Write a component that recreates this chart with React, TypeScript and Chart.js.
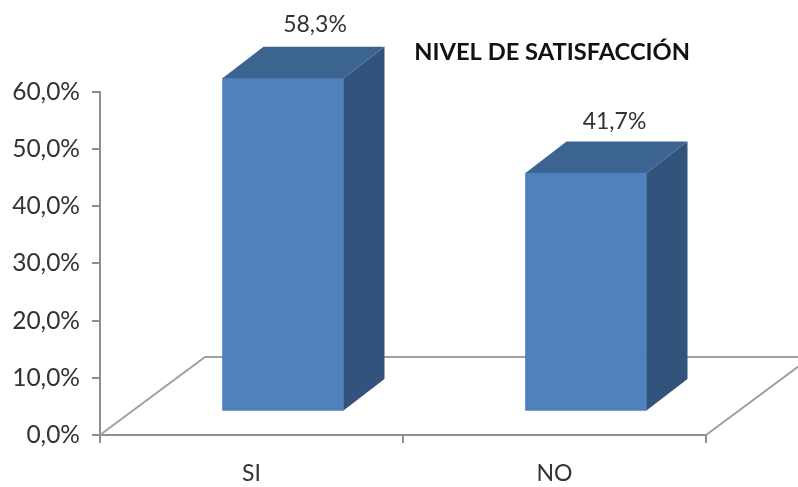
import { useEffect, useRef } from "react";
import { Chart, registerables } from "chart.js";

Chart.register(...registerables);

const categories = ["SI", "NO"];
const values = [58.3, 41.7];
const titleText = "NIVEL DE SATISFACCIÓN";
const yMax = 60;
const yStep = 10;

const FONT = "Lato, sans-serif";
const TEXT = "#333333";
const FRONT = "#4f81bd";
const TOP = "#3b6491";
const SIDE = "#32547c";

const BAR_SHIFT_X = 31.5;
const BAR_SHIFT_Y = -23.5;
const BAR_DEPTH_X = 41;
const BAR_DEPTH_Y = -31.5;
const FLOOR_DEPTH_X = 105;
const FLOOR_DEPTH_Y = -78;
const LABEL_OFFSETS = [[32, -54], [28.5, -51]];

const pct = (v: number) => v.toFixed(1).replace(".", ",") + "%";

function poly(ctx: CanvasRenderingContext2D, pts: number[][], fill: string) {
  ctx.fillStyle = fill;
  ctx.beginPath();
  pts.forEach(([x, y], i) => (i ? ctx.lineTo(x, y) : ctx.moveTo(x, y)));
  ctx.closePath();
  ctx.fill();
}

const bar3d = {
  id: "bar3d",
  afterLayout(chart: any) {
    if (chart.titleBlock) {
      chart.titleBlock.left -= 16;
      chart.titleBlock.right -= 16;
    }
  },
  beforeDatasetsDraw(chart: any) {
    const { ctx, chartArea: a } = chart;
    ctx.save();
    ctx.strokeStyle = "#a0a0a0";
    ctx.lineWidth = 2;
    ctx.beginPath();
    ctx.moveTo(a.left, a.bottom);
    ctx.lineTo(a.left + FLOOR_DEPTH_X, a.bottom + FLOOR_DEPTH_Y);
    ctx.lineTo(a.right + FLOOR_DEPTH_X, a.bottom + FLOOR_DEPTH_Y);
    ctx.moveTo(a.right, a.bottom);
    ctx.lineTo(a.right + FLOOR_DEPTH_X, a.bottom + FLOOR_DEPTH_Y);
    ctx.stroke();
    ctx.restore();
  },
  beforeDatasetDraw(chart: any) {
    chart.ctx.save();
    chart.ctx.translate(BAR_SHIFT_X, BAR_SHIFT_Y);
  },
  afterDatasetDraw(chart: any, args: any) {
    const { ctx } = chart;
    ctx.restore();
    ctx.save();
    args.meta.data.forEach((el: any, i: number) => {
      const { x, y, base, width } = el.getProps(["x", "y", "base", "width"], true);
      const l = x - width / 2 + BAR_SHIFT_X;
      const r = x + width / 2 + BAR_SHIFT_X;
      const t = y + BAR_SHIFT_Y;
      const b = base + BAR_SHIFT_Y;
      poly(ctx, [[r, t], [r + BAR_DEPTH_X, t + BAR_DEPTH_Y], [r + BAR_DEPTH_X, b + BAR_DEPTH_Y], [r, b]], SIDE);
      poly(ctx, [[l, t], [l + BAR_DEPTH_X, t + BAR_DEPTH_Y], [r + BAR_DEPTH_X, t + BAR_DEPTH_Y], [r, t]], TOP);
      ctx.fillStyle = TEXT;
      ctx.font = `23px ${FONT}`;
      ctx.textAlign = "center";
      ctx.textBaseline = "middle";
      ctx.fillText(pct(values[i]), x + BAR_SHIFT_X + LABEL_OFFSETS[i][0], t + LABEL_OFFSETS[i][1]);
    });
    ctx.restore();
  },
};

export default function App() {
  const ref = useRef<HTMLCanvasElement>(null);
  useEffect(() => {
    const chart = new Chart(ref.current!, {
      type: "bar",
      data: {
        labels: categories,
        datasets: [{ data: values, backgroundColor: FRONT, barThickness: 121 }],
      },
      plugins: [bar3d],
      options: {
        animation: false,
        responsive: false,
        layout: { padding: { top: 38, right: 92, left: 0, bottom: 0 } },
        plugins: {
          legend: { display: false },
          tooltip: { enabled: false },
          title: {
            display: true,
            text: titleText,
            align: "end",
            color: "#111111",
            font: { family: FONT, size: 23.7, weight: "bold", lineHeight: 1.2 },
            padding: { top: 0, bottom: 25.5 },
          },
        },
        scales: {
          x: {
            afterFit: (s: any) => { s.height = 52; },
            grid: { drawOnChartArea: false, color: "#8e8e8e", lineWidth: 2, tickLength: 8 },
            border: { color: "#8e8e8e", width: 2 },
            ticks: { color: TEXT, font: { family: FONT, size: 23 }, padding: 17 },
          },
          y: {
            min: 0,
            max: yMax,
            afterFit: (s: any) => { s.width = 100; },
            grid: { drawOnChartArea: false, color: "#8e8e8e", lineWidth: 2, tickLength: 8 },
            border: { color: "#8e8e8e", width: 2 },
            ticks: {
              stepSize: yStep,
              color: TEXT,
              font: { family: FONT, size: 24.5 },
              padding: 12,
              callback: (v: any) => pct(Number(v)),
            },
          },
        },
      },
    } as any);
    return () => chart.destroy();
  }, []);
  return (
    <div style={{ position: "absolute", left: 0, top: 0, width: 798, height: 487 }}>
      <canvas ref={ref} width={798} height={487} style={{ display: "block", filter: "blur(0.5px)" }} />
    </div>
  );
}
